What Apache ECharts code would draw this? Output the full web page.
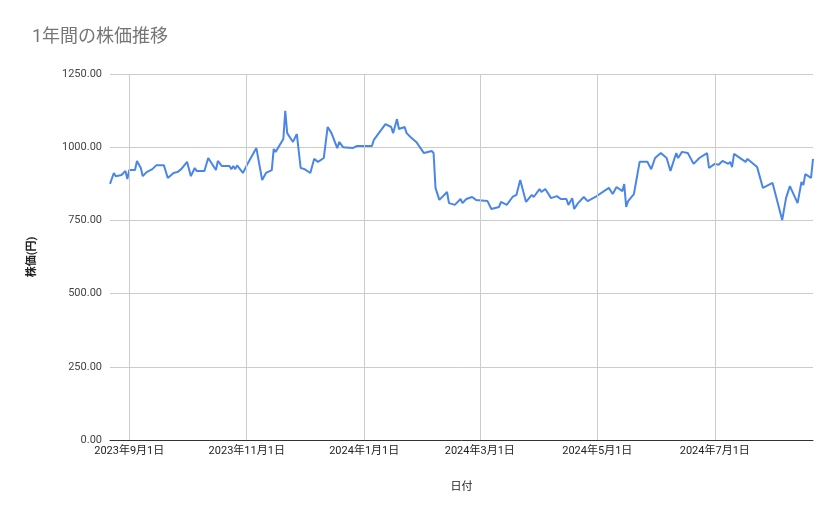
<!DOCTYPE html>
<html><head><meta charset="utf-8">
<script src="https://cdn.jsdelivr.net/npm/echarts@6/dist/echarts.min.js"></script>
<style>html,body{margin:0;padding:0;background:#fff}#c{width:839px;height:519px}</style>
</head><body><div id="c"></div>
<script>
const startDate = '2023-09-01';
const dayOffsets = [-10,-8,-7,-4,-2,-1,0,3,4,6,7,9,12,13,14,18,20,23,25,27,30,32,34,35,39,41,45,46,48,52,53,54,55,56,59,61,66,67,69,71,74,75,76,80,81,82,85,87,89,91,94,96,98,101,103,105,108,109,111,116,118,126,127,133,136,137,139,140,143,144,146,149,153,157,158,159,161,165,166,169,172,173,175,178,180,186,188,192,193,196,199,201,203,206,209,210,213,214,216,219,222,224,227,228,230,231,233,236,238,242,243,249,251,253,256,257,258,259,262,265,266,269,271,273,276,279,281,284,285,287,290,293,296,300,301,304,306,308,311,312,313,314,320,321,326,329,334,339,341,343,347,349,350,351,354,355];
const prices = [875,912,901,905,919,891,922,922,953,929,901,915,925,922,938,938,895,912,915,925,950,901,929,919,919,963,922,953,936,936,925,936,925,938,912,938,997,1000,888,912,922,994,984,1028,1124,1048,1018,1045,929,925,912,960,950,963,1069,1048,997,1018,1000,997,1004,1004,1025,1079,1069,1048,1096,1062,1069,1048,1035,1018,980,987,980,861,820,847,809,803,823,809,823,830,820,816,789,796,813,803,830,837,888,813,837,830,857,847,857,826,833,823,823,803,826,789,809,830,816,830,826,861,840,864,850,874,796,816,840,950,950,950,925,963,980,963,919,980,963,984,980,943,963,980,929,943,940,953,943,950,932,977,950,960,932,861,878,751,826,867,809,881,871,908,895,960];
const tickDates = ['2023-09-01','2023-11-01','2024-01-01','2024-03-01','2024-05-01','2024-07-01'];

const t0 = new Date(startDate + 'T00:00:00Z').getTime();
const DAY = 86400000;
const data = dayOffsets.map((d,i)=>[t0 + d*DAY, prices[i]]);
const tickTs = tickDates.map(s=>new Date(s+'T00:00:00Z').getTime());
const fmt = ts => { const d=new Date(ts); return d.getUTCFullYear()+'年'+(d.getUTCMonth()+1)+'月'+d.getUTCDate()+'日'; };
const font = 'Roboto, "Noto Sans CJK JP", sans-serif';
const chart = echarts.init(document.getElementById('c'));
chart.setOption({
  animation:false,
  title:{text:'1年間の株価推移',left:27,top:24,textStyle:{fontSize:18,fontWeight:'normal',color:'#757575',fontFamily:font}},
  grid:{left:110,right:26,top:74,bottom:79,containLabel:false},
  xAxis:{type:'time',min:data[0][0],max:data[data.length-1][0],
    name:'日付',nameLocation:'middle',nameGap:42,nameTextStyle:{fontSize:11,color:'#222',fontFamily:font},
    axisLine:{show:true,lineStyle:{color:'#333'}},
    axisTick:{show:false},axisLabel:{show:false},splitLine:{show:false}},
  yAxis:{type:'value',min:0,max:1250,interval:250,
    name:'株価(円)',nameLocation:'middle',nameGap:72,nameTextStyle:{fontSize:11,color:'#222',fontFamily:font,fontWeight:'bold'},
    axisLabel:{formatter:v=>v.toFixed(2),fontSize:11,color:'#444',fontFamily:font},
    axisLine:{show:false},axisTick:{show:false},
    splitLine:{lineStyle:{color:'#ccc'}}},
  series:[{type:'line',data:data,showSymbol:false,lineStyle:{color:'#4a86e8',width:2},
    markLine:{silent:true,symbol:'none',
      label:{show:true,position:'start',distance:6,formatter:p=>fmt(p.value),fontSize:11,color:'#222',fontFamily:font},
      lineStyle:{color:'#ccc',type:'solid',width:1},
      data:tickTs.map(t=>({xAxis:t}))}}]
});
</script></body></html>
